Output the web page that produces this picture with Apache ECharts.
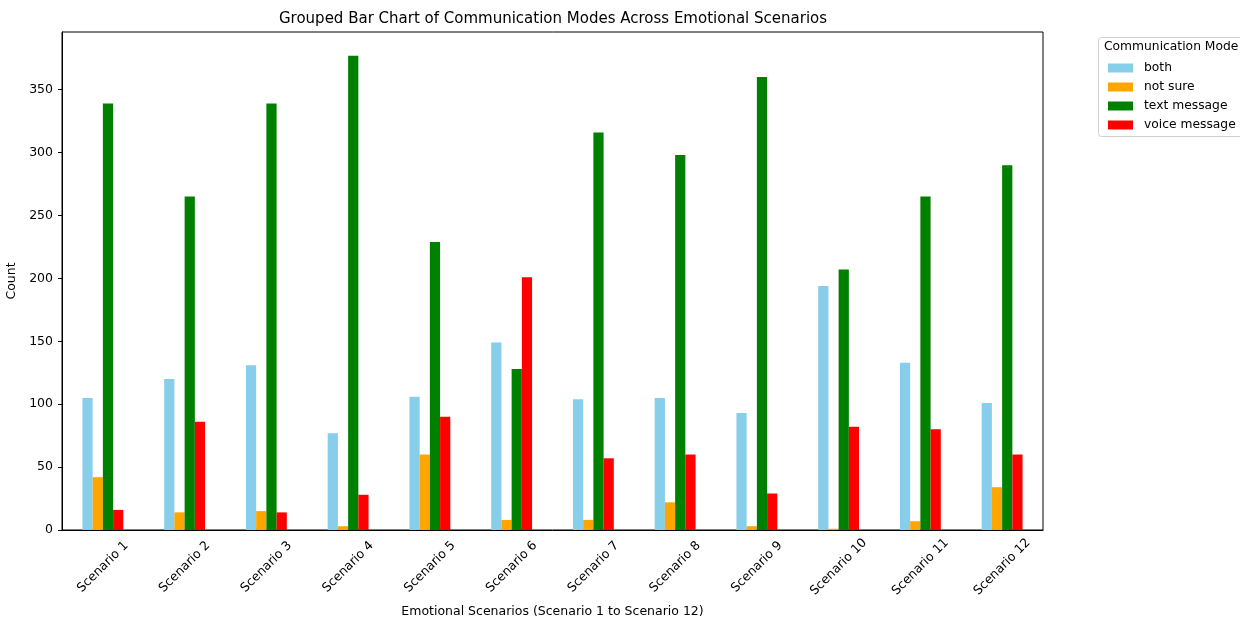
<!DOCTYPE html>
<html>
<head>
<meta charset="utf-8">
<script src="https://cdn.jsdelivr.net/npm/echarts@6/dist/echarts.min.js"></script>
<style>html,body{margin:0;padding:0;background:#fff;}#c{width:1240px;height:617px;}</style>
</head>
<body>
<div id="c"></div>
<script>
var categories = ['Scenario 1','Scenario 2','Scenario 3','Scenario 4','Scenario 5','Scenario 6','Scenario 7','Scenario 8','Scenario 9','Scenario 10','Scenario 11','Scenario 12'];
var seriesNames = ['both','not sure','text message','voice message'];
var both = [105,120,131,77,106,149,104,105,93,194,133,101];
var notSure = [42,14,15,3,60,8,8,22,3,1,7,34];
var textMessage = [339,265,339,377,229,128,316,298,360,207,265,290];
var voiceMessage = [16,86,14,28,90,201,57,60,29,82,80,60];
var yTicks = [0,50,100,150,200,250,300,350];
var colors = ['#87CEEB','#FFA500','#008000','#FF0000'];

var FONT = 'DejaVu Sans';
var FS = 12.5;
var chart = echarts.init(document.getElementById('c'), null, {renderer:'canvas'});
var values = [both, notSure, textMessage, voiceMessage];
var series = values.map(function(v,i){
  return {name: seriesNames[i], type:'bar', data: v, itemStyle:{color: colors[i]},
    barGap:'0%', barCategoryGap:'50%', animation:false};
});
chart.setOption({
  animation:false,
  textStyle:{fontFamily:FONT},
  title:{text:'Grouped Bar Chart of Communication Modes Across Emotional Scenarios',
    left:548, top:7, textAlign:'center',
    textStyle:{fontFamily:FONT, fontSize:15, fontWeight:'normal', color:'#000'}},
  grid:{left:62, right:197, top:32, bottom:87, show:true, borderColor:'#000', borderWidth:1,
    containLabel:false, outerBoundsMode:'none'},
  legend:{orient:'vertical', left:1103, top:56, itemWidth:25, itemHeight:9, itemGap:5,
    icon:'rect', data:seriesNames,
    textStyle:{fontFamily:FONT, fontSize:12.3, color:'#000', lineHeight:14, padding:[0,0,0,6]}},
  xAxis:{type:'category', data:categories,
    axisLine:{lineStyle:{color:'#000', width:1}},
    axisTick:{alignWithLabel:true, length:4, lineStyle:{color:'#000'}},
    axisLabel:{rotate:45, align:'center', verticalAlign:'middle', fontFamily:FONT, fontSize:FS, color:'#000', margin:37, interval:0},
    name:'Emotional Scenarios (Scenario 1 to Scenario 12)', nameLocation:'middle', nameGap:72,
    nameTextStyle:{fontFamily:FONT, fontSize:FS, color:'#000'}},
  yAxis:{type:'value', min:0, max:395.85, interval:50,
    axisLine:{show:true, lineStyle:{color:'#000', width:1}},
    axisTick:{show:true, length:4, lineStyle:{color:'#000'}, customValues:yTicks},
    axisLabel:{fontFamily:FONT, fontSize:FS, color:'#000', margin:9, customValues:yTicks},
    splitLine:{show:false},
    name:'Count', nameLocation:'middle', nameGap:32, nameRotate:90,
    nameTextStyle:{fontFamily:FONT, fontSize:FS, color:'#000'}},
  graphic:[
    {type:'rect', left:1098, top:37, shape:{width:170, height:99, r:3},
     style:{fill:'#fff', stroke:'#d0d0d0', lineWidth:1}, z:-1},
    {type:'text', left:1104, top:41, style:{text:'Communication Mode', fontFamily:FONT, fontSize:12.3, fill:'#000'}}
  ],
  series: series
});
</script>
</body>
</html>
